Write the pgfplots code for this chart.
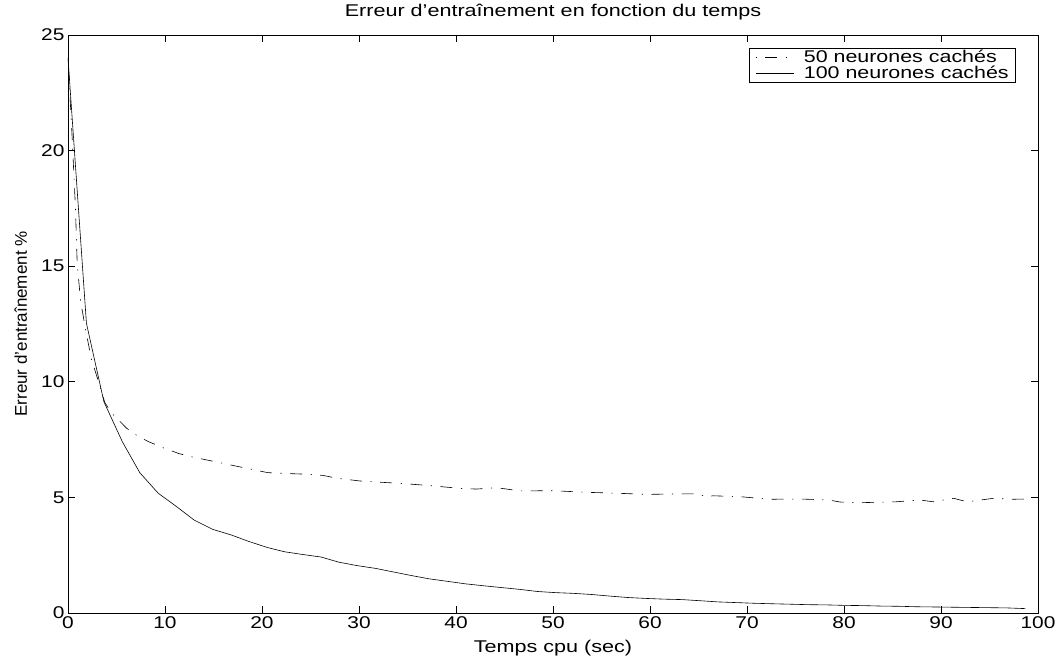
\documentclass[border=0pt]{standalone}
\usepackage{fontspec}
\setmainfont{Liberation Sans}[FakeStretch=1.27]
\newfontfamily\ylabfont{Liberation Sans}
\newfontfamily\tickfont{Liberation Sans}[FakeStretch=1.23]
\newfontfamily\legfont{Liberation Sans}[FakeStretch=1.26]
\usepackage{pgfplots}
\pgfplotsset{compat=1.18}
\begin{document}
\begin{tikzpicture}
\useasboundingbox (-68pt,-48pt) rectangle (994pt,613pt);
\begin{axis}[
  scale only axis,
  width=970pt, height=578pt,
  xmin=0, xmax=100, ymin=0, ymax=25,
  xtick={0,10,...,100}, ytick={0,5,...,25},
  tick align=inside,
  major tick length=7pt,
  every tick/.style={black, line width=0.6pt},
  axis line style={black, line width=0.8pt},
  /pgf/number format/assume math mode=true,
  font=\fontsize{17}{20}\selectfont,
  ticklabel style={font=\tickfont\fontsize{17}{20}\selectfont},
  title={Erreur d’entraînement en fonction du temps},
  title style={font=\fontsize{17}{20}\selectfont, at={(axis description cs:0.5,1)}, anchor=base, yshift=12pt},
  xlabel={Temps cpu (sec)},
  ylabel={Erreur d’entraînement \%},
  xlabel style={font=\fontsize{17}{20}\selectfont, at={(axis description cs:0.5,0)}, anchor=base, yshift=-39pt},
  ylabel style={font=\ylabfont\fontsize{17}{20}\selectfont, at={(axis description cs:-0.0423,0.5)}, anchor=base},
  legend cell align=left,
  legend style={at={(1,1)}, anchor=north east, xshift=-22pt, yshift=-13pt,
    draw=black, line width=0.6pt, font=\legfont\fontsize{17}{19}\selectfont,
    inner xsep=6pt, inner ysep=1.5pt, row sep=1pt,
    nodes={inner xsep=1pt, inner ysep=0.5pt},
    /tikz/every odd column/.append style={column sep=9pt}},
  legend image code/.code={\draw[#1] (0pt,0pt) -- (38pt,0pt);},
]
\addplot[black, line width=0.6pt, dash pattern=on 1.2pt off 8.5pt on 12pt off 8.5pt] coordinates {
(0,24.0) (0.4,20.8) (0.76,17.6) (0.95,15.1) (1.3,13.5) (1.75,12.4) (2.4,11.0) (3.3,9.8) (3.8,9.1)
(4.6,8.6) (6.05,7.99) (7.2,7.65) (8.3,7.41) (9.8,7.15) (11.4,6.9) (12.8,6.75) (14.3,6.62)
(16.0,6.47) (17.6,6.33) (19.1,6.2) (20.6,6.07) (22.7,6.03) (24.9,6.0) (26.3,5.95) (27.7,5.83)
(30.1,5.71) (32.0,5.66) (34.2,5.61) (37.3,5.51) (40.4,5.39) (42.1,5.36) (44.2,5.42) (46.6,5.28)
(50.0,5.29) (53.5,5.22) (56.6,5.18) (59.7,5.13) (62.7,5.15) (64.8,5.15) (65.8,5.03) (66.5,5.07)
(69.3,5.03) (72.4,4.92) (75.5,4.93) (78.4,4.89) (79.6,4.80) (81.6,4.77) (85.4,4.81) (87.8,4.89)
(89.2,4.81) (91.3,4.96) (92.7,4.81) (95.4,4.96) (97.5,4.92) (98.7,4.93)
};
\addlegendentry{50 neurones cachés}
\addplot[black, line width=0.6pt] coordinates {
(0,24.0) (1.9,12.53) (3.7,9.14) (5.6,7.41) (7.4,6.07) (9.3,5.18) (11.2,4.6) (13.0,4.02)
(14.9,3.62) (16.8,3.38) (18.6,3.1) (20.5,2.84) (22.3,2.65) (24.2,2.53) (26.1,2.42) (27.9,2.2)
(29.8,2.05) (31.7,1.93) (33.5,1.78) (35.4,1.62) (37.2,1.48) (39.1,1.37) (41.0,1.26) (42.8,1.18)
(44.7,1.1) (46.6,1.02) (48.4,0.93) (50.3,0.88) (52.1,0.85) (54.0,0.8) (55.9,0.73) (57.7,0.67)
(59.6,0.63) (61.4,0.6) (63.3,0.58) (65.2,0.53) (67.0,0.48) (68.9,0.45) (70.8,0.42) (72.6,0.4)
(74.5,0.38) (76.3,0.36) (78.2,0.35) (80.1,0.33) (81.9,0.32) (83.8,0.3) (85.7,0.29) (87.5,0.27)
(89.4,0.26) (91.2,0.25) (93.1,0.24) (95.0,0.23) (96.8,0.22) (98.7,0.19)
};
\addlegendentry{100 neurones cachés}
\end{axis}
\end{tikzpicture}
\end{document}
